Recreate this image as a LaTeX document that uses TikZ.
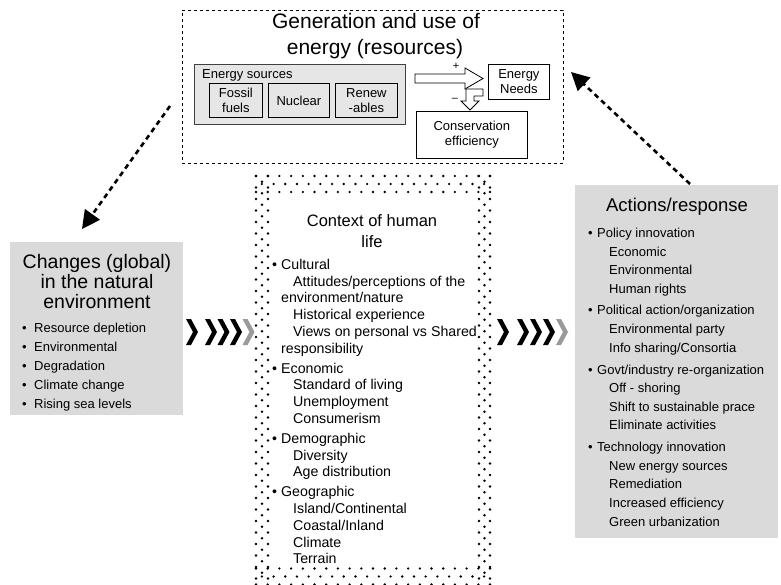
\documentclass[tikz,border=0pt]{standalone}
\usepackage{fontspec}
\setmainfont{Liberation Sans}
\usetikzlibrary{arrows.meta}
\definecolor{panelgray}{HTML}{DADADA}
\definecolor{srcgray}{HTML}{E6E6E6}
\definecolor{chevgray}{HTML}{9A9A9A}
\newcommand\bul{\makebox[9pt][l]{•}}
\newcommand\bulw{\makebox[12pt][l]{•}}
\tikzset{
  li/.style={anchor=base west, inner sep=0pt, font=\fontsize{13}{15}\selectfont},
  cli/.style={anchor=base west, inner sep=0pt, font=\fontsize{14.2}{16}\selectfont},
  bigttl/.style={anchor=base, inner sep=0pt, font=\fontsize{21}{24}\selectfont},
  midttl/.style={anchor=base, inner sep=0pt, font=\fontsize{19.5}{22}\selectfont},
  actttl/.style={anchor=base, inner sep=0pt, font=\fontsize{18.5}{21}\selectfont},
  ctxttl/.style={anchor=base, inner sep=0pt, font=\fontsize{16.5}{19}\selectfont},
  genbox/.style={draw, dashed, line width=0.7pt, anchor=north west, inner sep=0pt},
  panel/.style={fill=panelgray, draw=none, anchor=north west, inner sep=0pt},
  smallbox/.style={draw, line width=0.8pt, anchor=north west, inner sep=0pt, align=center,
                   font=\fontsize{13}{15}\selectfont},
  dasharrow/.style={line width=2.6pt, dash pattern=on 5pt off 4pt,
                    -{Triangle[length=18pt,width=18pt]}},
  hollow/.style={draw, line width=0.8pt, fill=white, line join=miter},
}
\begin{document}
\begin{tikzpicture}[x=1pt,y=-1pt]
\useasboundingbox (0,0) rectangle (781,585);

% ---------- generation and use of energy ----------
\node[genbox, minimum width=381pt, minimum height=153pt] (gen) at (182,10) {};
\node[bigttl] (gent1) at (376,29) {Generation and use of};
\node[bigttl] (gent2) at (375,55) {energy (resources)};

\node[draw=black!75, fill=srcgray, line width=0.9pt, anchor=north west, inner sep=0pt,
      minimum width=211pt, minimum height=60pt] (src) at (194,64) {};
\node[li] (srclbl) at (202,79) {Energy sources};
\node[smallbox, minimum width=53pt, minimum height=34pt] (fossil) at (209,83) {Fossil\\fuels};
\node[smallbox, minimum width=61pt, minimum height=34pt] (nuclear) at (268,83) {Nuclear};
\node[smallbox, minimum width=62pt, minimum height=34pt] (renew) at (335,83) {Renew\\-ables};

\node[smallbox, minimum width=61pt, minimum height=35pt] (needs) at (488,64) {Energy\\Needs};
\node[smallbox, minimum width=111pt, minimum height=47pt] (cons) at (416,111) {Conservation\\efficiency};

% hollow arrows between sources, needs and conservation
\draw[hollow] (415,74) -- (465,74) -- (465,68) -- (483,78.5) -- (465,89) -- (465,83) -- (415,83) -- cycle;
\node[inner sep=0pt, font=\fontsize{11}{12}\selectfont] (plus) at (456,66) {+};
\draw[hollow] (483,89) -- (466,89) -- (466,101) -- (461,101) -- (470,110) -- (479,101) -- (474,101) -- (474,96) -- (483,96) -- cycle;
\node[inner sep=0pt, font=\fontsize{11}{12}\selectfont] (minus) at (455,100) {--};

% ---------- dashed feedback arrows ----------
\coordinate (la) at (170,106);
\coordinate (lb) at (82,229);
\draw[dasharrow] (la) -- (lb);
\coordinate (ra) at (690,184);
\coordinate (rb) at (571,72);
\draw[dasharrow] (ra) -- (rb);

% ---------- changes in the natural environment ----------
\node[panel, minimum width=173pt, minimum height=173pt] (chg) at (10,242) {};
\node[midttl] (chgt1) at (97,268.5) {Changes (global)};
\node[midttl] (chgt2) at (97,288.5) {in the natural};
\node[midttl] (chgt3) at (97,308) {environment};
\node[li] (c1) at (22,332) {\bulw Resource depletion};
\node[li] (c2) at (22,351) {\bulw Environmental};
\node[li] (c3) at (22,370) {\bulw Degradation};
\node[li] (c4) at (22,389) {\bulw Climate change};
\node[li] (c5) at (22,408) {\bulw Rising sea levels};

% ---------- actions / response ----------
\node[panel, minimum width=203pt, minimum height=353pt] (act) at (575,185) {};
\node[actttl] (actt) at (677,211.5) {Actions/response};
\node[li] (a1)  at (588,237.7) {\bul Policy innovation};
\node[li] (a2)  at (609,256.7) {Economic};
\node[li] (a3)  at (609,274.7) {Environmental};
\node[li] (a4)  at (609,293.7) {Human rights};
\node[li] (a5)  at (588,314.7) {\bul Political action/organization};
\node[li] (a6)  at (609,333.7) {Environmental party};
\node[li] (a7)  at (609,352.7) {Info sharing/Consortia};
\node[li] (a8)  at (588,374.7) {\bul Govt/industry re-organization};
\node[li] (a9)  at (609,392.7) {Off - shoring};
\node[li] (a10) at (609,411.7) {Shift to sustainable prace};
\node[li] (a11) at (609,429.7) {Eliminate activities};
\node[li] (a12) at (588,451.7) {\bul Technology innovation};
\node[li] (a13) at (609,470.7) {New energy sources};
\node[li] (a14) at (609,488.7) {Remediation};
\node[li] (a15) at (609,507.7) {Increased efficiency};
\node[li] (a16) at (609,526.7) {Green urbanization};

% ---------- context of human life (stippled frame) ----------
\foreach \i in {0,...,20} {
  \fill (256+\i*11.7,176) circle (1.3pt);
  \fill (256+\i*11.7,192) circle (1.3pt);
  \fill (256+\i*11.7,568.5) circle (1.3pt);
  \fill (256+\i*11.7,584.5) circle (1.3pt);
}
\foreach \i in {0,...,19} {
  \fill (261.85+\i*11.7,184) circle (1.3pt);
  \fill (261.85+\i*11.7,576.5) circle (1.3pt);
}
\foreach \i in {0,...,35} {
  \fill (256,176+\i*11.5) circle (1.3pt);
  \fill (268,176+\i*11.5) circle (1.3pt);
  \fill (479,176+\i*11.5) circle (1.3pt);
  \fill (490,176+\i*11.5) circle (1.3pt);
}
\foreach \i in {0,...,34} {
  \fill (262,181.75+\i*11.5) circle (1.3pt);
  \fill (484.5,181.75+\i*11.5) circle (1.3pt);
}
\node[inner sep=0pt, minimum width=238pt, minimum height=413pt, anchor=north west] (ctx) at (253,172) {};
\node[ctxttl] (ctxt1) at (372,227) {Context of human};
\node[ctxttl] (ctxt2) at (372,247.5) {life};
\node[cli] (x1)  at (272,269.2) {\bul Cultural};
\node[cli] (x2)  at (293,286.0) {Attitudes/perceptions of the};
\node[cli] (x3)  at (281,302.8) {environment/nature};
\node[cli] (x4)  at (293,319.6) {Historical experience};
\node[cli] (x5)  at (293,336.4) {Views on personal vs Shared};
\node[cli] (x6)  at (281,353.2) {responsibility};
\node[cli] (x7)  at (272,373.0) {\bul Economic};
\node[cli] (x8)  at (293,389.8) {Standard of living};
\node[cli] (x9)  at (293,406.6) {Unemployment};
\node[cli] (x10) at (293,423.4) {Consumerism};
\node[cli] (x11) at (272,443.2) {\bul Demographic};
\node[cli] (x12) at (293,460.0) {Diversity};
\node[cli] (x13) at (293,476.8) {Age distribution};
\node[cli] (x14) at (272,496.6) {\bul Geographic};
\node[cli] (x15) at (293,513.4) {Island/Continental};
\node[cli] (x16) at (293,530.2) {Coastal/Inland};
\node[cli] (x17) at (293,547.0) {Climate};
\node[cli] (x18) at (293,563.8) {Terrain};

% ---------- chevron flows ----------
\foreach \cx/\col in {186/black, 205/black, 217.5/black, 230/black, 242.5/chevgray,
                      497/black, 517/black, 530/black, 543/black, 556/chevgray} {
  \fill[\col] (\cx,319) -- (\cx+5,319) -- (\cx+12,332) -- (\cx+5,345) -- (\cx,345) -- (\cx+7,332) -- cycle;
}
\end{tikzpicture}
\end{document}
